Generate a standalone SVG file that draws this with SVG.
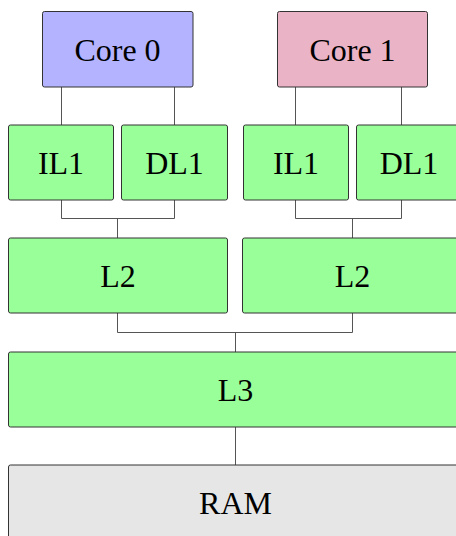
<svg xmlns="http://www.w3.org/2000/svg" width="456" height="536" viewBox="0 0 456 536">
<style>
.box{stroke:#333;stroke-width:1;}
.core0{fill:#B3B3FF;}
.core1{fill:#EBB3C6;}
.cache{fill:#99FF99;}
.ram{fill:#E6E6E6;}
text{font-family:"Liberation Serif","DejaVu Serif",serif;font-size:32px;fill:#000;text-anchor:middle;}
.conn{fill:none;stroke:#555;stroke-width:1;}
</style>
<rect width="456" height="536" fill="#fff"/>
<g id="connectors">
<path class="conn" d="M61.5,87 V125 M174.5,87 V125 M295.5,87 V125 M401.5,87 V125"/>
<path class="conn" d="M61.5,200 V218.5 H174.5 V200 M117.5,218.5 V238"/>
<path class="conn" d="M295.5,200 V218.5 H401.5 V200 M352.5,218.5 V238"/>
<path class="conn" d="M117.5,313 V332.5 H352.5 V313 M235.5,332.5 V352"/>
<path class="conn" d="M235.5,427 V465"/>
</g>
<g id="core0"><rect class="box core0" x="42.5" y="11.5" width="150.5" height="75.5" rx="2"/><text x="117.5" y="60.5">Core 0</text></g>
<g id="core1"><rect class="box core1" x="277.5" y="11.5" width="150" height="75.5" rx="2"/><text x="352.5" y="60.5">Core 1</text></g>
<g id="il1-0"><rect class="box cache" x="8.5" y="125" width="105" height="75" rx="2"/><text x="61" y="173.5">IL1</text></g>
<g id="dl1-0"><rect class="box cache" x="121.5" y="125" width="106" height="75" rx="2"/><text x="174.5" y="173.5">DL1</text></g>
<g id="il1-1"><rect class="box cache" x="243.5" y="125" width="105" height="75" rx="2"/><text x="296" y="173.5">IL1</text></g>
<g id="dl1-1"><rect class="box cache" x="356.5" y="125" width="106" height="75" rx="2"/><text x="409" y="173.5">DL1</text></g>
<g id="l2-0"><rect class="box cache" x="8.5" y="238" width="219" height="75" rx="2"/><text x="118" y="286.5">L2</text></g>
<g id="l2-1"><rect class="box cache" x="242.5" y="238" width="220" height="75" rx="2"/><text x="352.5" y="286.5">L2</text></g>
<g id="l3"><rect class="box cache" x="8.5" y="352" width="454" height="75" rx="2"/><text x="235.5" y="400.5">L3</text></g>
<g id="ram"><rect class="box ram" x="8.5" y="465" width="454" height="80" rx="2"/><text x="235.5" y="513.5">RAM</text></g>
</svg>
